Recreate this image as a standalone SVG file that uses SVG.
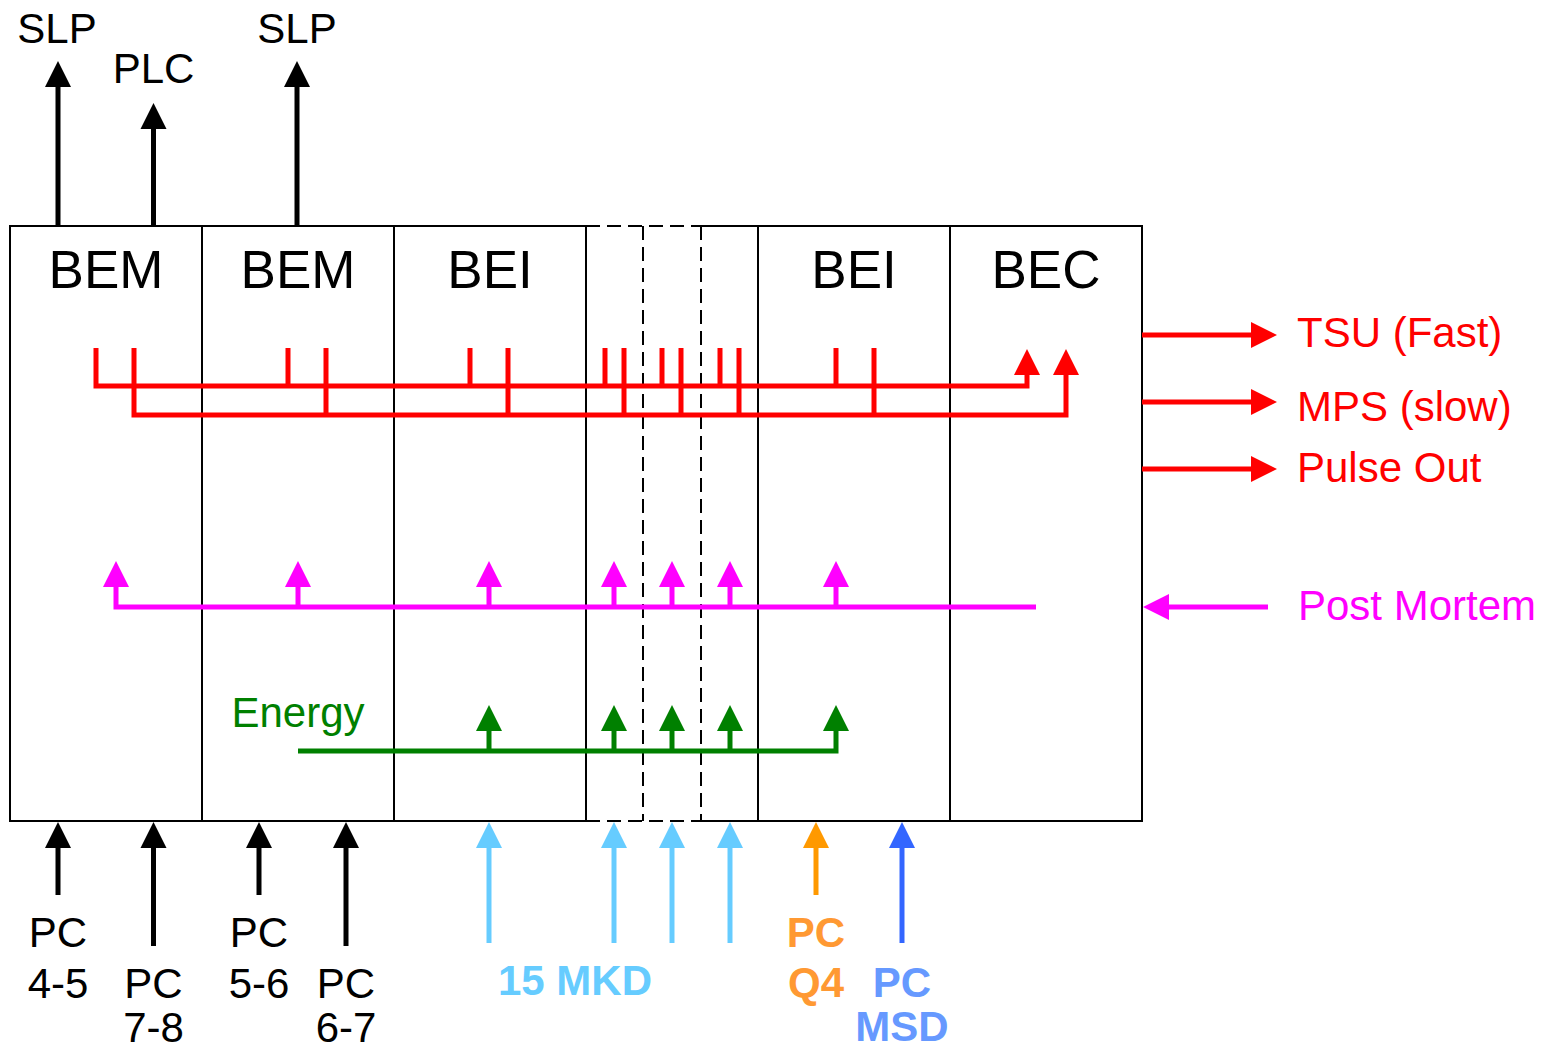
<svg xmlns="http://www.w3.org/2000/svg" width="1542" height="1049" viewBox="0 0 1542 1049">
<style>
.box{fill:none;stroke:#000;stroke-width:2}
.dash{fill:none;stroke:#000;stroke-width:2;stroke-dasharray:14 7}
.t{font-family:"Liberation Sans",Arial,sans-serif;font-size:42px;text-anchor:middle}
.big{font-size:53px}
.l{text-anchor:start}
.b{font-weight:bold}
.ln{fill:none;stroke-width:5;stroke-linejoin:miter}
.k{stroke:#000}.r{stroke:#FF0000}.m{stroke:#FF00FF}.g{stroke:#008000}.lb{stroke:#66CCFF}.o{stroke:#FF9900}.bl{stroke:#3366FF}
</style>
<defs>
<marker id="ak" markerUnits="userSpaceOnUse" markerWidth="26" markerHeight="26" viewBox="0 -13 26 26" refX="0" refY="0" orient="auto" overflow="visible"><path d="M0,-13L26,0L0,13z" fill="#000"/></marker>
<marker id="ar" markerUnits="userSpaceOnUse" markerWidth="26" markerHeight="26" viewBox="0 -13 26 26" refX="0" refY="0" orient="auto" overflow="visible"><path d="M0,-13L26,0L0,13z" fill="#FF0000"/></marker>
<marker id="am" markerUnits="userSpaceOnUse" markerWidth="26" markerHeight="26" viewBox="0 -13 26 26" refX="0" refY="0" orient="auto" overflow="visible"><path d="M0,-13L26,0L0,13z" fill="#FF00FF"/></marker>
<marker id="ag" markerUnits="userSpaceOnUse" markerWidth="26" markerHeight="26" viewBox="0 -13 26 26" refX="0" refY="0" orient="auto" overflow="visible"><path d="M0,-13L26,0L0,13z" fill="#008000"/></marker>
<marker id="alb" markerUnits="userSpaceOnUse" markerWidth="26" markerHeight="26" viewBox="0 -13 26 26" refX="0" refY="0" orient="auto" overflow="visible"><path d="M0,-13L26,0L0,13z" fill="#66CCFF"/></marker>
<marker id="ao" markerUnits="userSpaceOnUse" markerWidth="26" markerHeight="26" viewBox="0 -13 26 26" refX="0" refY="0" orient="auto" overflow="visible"><path d="M0,-13L26,0L0,13z" fill="#FF9900"/></marker>
<marker id="abl" markerUnits="userSpaceOnUse" markerWidth="26" markerHeight="26" viewBox="0 -13 26 26" refX="0" refY="0" orient="auto" overflow="visible"><path d="M0,-13L26,0L0,13z" fill="#3366FF"/></marker>
</defs>
<rect width="1542" height="1049" fill="#fff"/>

<g id="bem1"><rect class="box" x="10" y="226" width="192" height="595"/><text class="t big" x="106" y="288">BEM</text></g>
<g id="bem2"><rect class="box" x="202" y="226" width="192" height="595"/><text class="t big" x="298" y="288">BEM</text></g>
<g id="bei1"><rect class="box" x="394" y="226" width="192" height="595"/><text class="t big" x="490" y="288">BEI</text></g>
<g id="mid">
<path class="box" d="M586,226V821M758,226V821M701,226H758M701,821H758"/>
<path class="dash" d="M586,226H701M586,821H701M643,226V821M701,226V821"/>
</g>
<g id="bei2"><rect class="box" x="758" y="226" width="192" height="595"/><text class="t big" x="854" y="288">BEI</text></g>
<g id="bec"><rect class="box" x="950" y="226" width="192" height="595"/><text class="t big" x="1046" y="288">BEC</text></g>

<g id="connectors">
<path class="ln k" d="M58,226V87" marker-end="url(#ak)"/>
<path class="ln k" d="M153.5,226V129" marker-end="url(#ak)"/>
<path class="ln k" d="M297,226V87" marker-end="url(#ak)"/>
<path class="ln r" d="M96,348V386H1027V375" marker-end="url(#ar)"/>
<path class="ln r" d="M134,348V415H1066V375" marker-end="url(#ar)"/>
<path class="ln r" d="M288,348V386M470,348V386M605,348V386M662,348V386M720,348V386M836,348V386"/>
<path class="ln r" d="M326,348V415M508,348V415M624,348V415M681,348V415M739,348V415M874,348V415"/>
<path class="ln r" d="M1142,335H1251" marker-end="url(#ar)"/>
<path class="ln r" d="M1142,402H1251" marker-end="url(#ar)"/>
<path class="ln r" d="M1142,469H1251" marker-end="url(#ar)"/>
<path class="ln m" d="M1036,607H116V587" marker-end="url(#am)"/>
<path class="ln m" d="M298,607V587" marker-end="url(#am)"/>
<path class="ln m" d="M489,607V587" marker-end="url(#am)"/>
<path class="ln m" d="M614,607V587" marker-end="url(#am)"/>
<path class="ln m" d="M672,607V587" marker-end="url(#am)"/>
<path class="ln m" d="M730,607V587" marker-end="url(#am)"/>
<path class="ln m" d="M836,607V587" marker-end="url(#am)"/>
<path class="ln m" d="M1268,607H1169" marker-end="url(#am)"/>
<path class="ln g" d="M298,751H836V731" marker-end="url(#ag)"/>
<path class="ln g" d="M489,751V731" marker-end="url(#ag)"/>
<path class="ln g" d="M614,751V731" marker-end="url(#ag)"/>
<path class="ln g" d="M672,751V731" marker-end="url(#ag)"/>
<path class="ln g" d="M730,751V731" marker-end="url(#ag)"/>
<path class="ln k" d="M58,895V848" marker-end="url(#ak)"/>
<path class="ln k" d="M153.5,946V848" marker-end="url(#ak)"/>
<path class="ln k" d="M259,895V848" marker-end="url(#ak)"/>
<path class="ln k" d="M346,946V848" marker-end="url(#ak)"/>
<path class="ln lb" d="M489,943V848" marker-end="url(#alb)"/>
<path class="ln lb" d="M614,943V848" marker-end="url(#alb)"/>
<path class="ln lb" d="M672,943V848" marker-end="url(#alb)"/>
<path class="ln lb" d="M730,943V848" marker-end="url(#alb)"/>
<path class="ln o" d="M816,895V848" marker-end="url(#ao)"/>
<path class="ln bl" d="M902,943V848" marker-end="url(#abl)"/>
</g>

<g id="labels">
<text class="t" x="57" y="43">SLP</text>
<text class="t" x="153.5" y="83">PLC</text>
<text class="t" x="297" y="43">SLP</text>
<text class="t l" x="1297" y="347" fill="#FF0000">TSU (Fast)</text>
<text class="t l" x="1297" y="421" fill="#FF0000">MPS (slow)</text>
<text class="t l" x="1297" y="482" fill="#FF0000">Pulse Out</text>
<text class="t l" x="1298" y="620" fill="#FF00FF">Post Mortem</text>
<text class="t" x="298" y="727" fill="#008000">Energy</text>
<text class="t" x="58" y="947">PC</text>
<text class="t" x="58" y="998">4-5</text>
<text class="t" x="153.5" y="998">PC</text>
<text class="t" x="153.5" y="1042">7-8</text>
<text class="t" x="259" y="947">PC</text>
<text class="t" x="259" y="998">5-6</text>
<text class="t" x="346" y="998">PC</text>
<text class="t" x="346" y="1042">6-7</text>
<text class="t b" x="575" y="995" fill="#66CCFF">15 MKD</text>
<text class="t b" x="816" y="947" fill="#FF9933">PC</text>
<text class="t b" x="816" y="997" fill="#FF9933">Q4</text>
<text class="t b" x="902" y="997" fill="#6699FF">PC</text>
<text class="t b" x="902" y="1041" fill="#6699FF">MSD</text>
</g>
</svg>
